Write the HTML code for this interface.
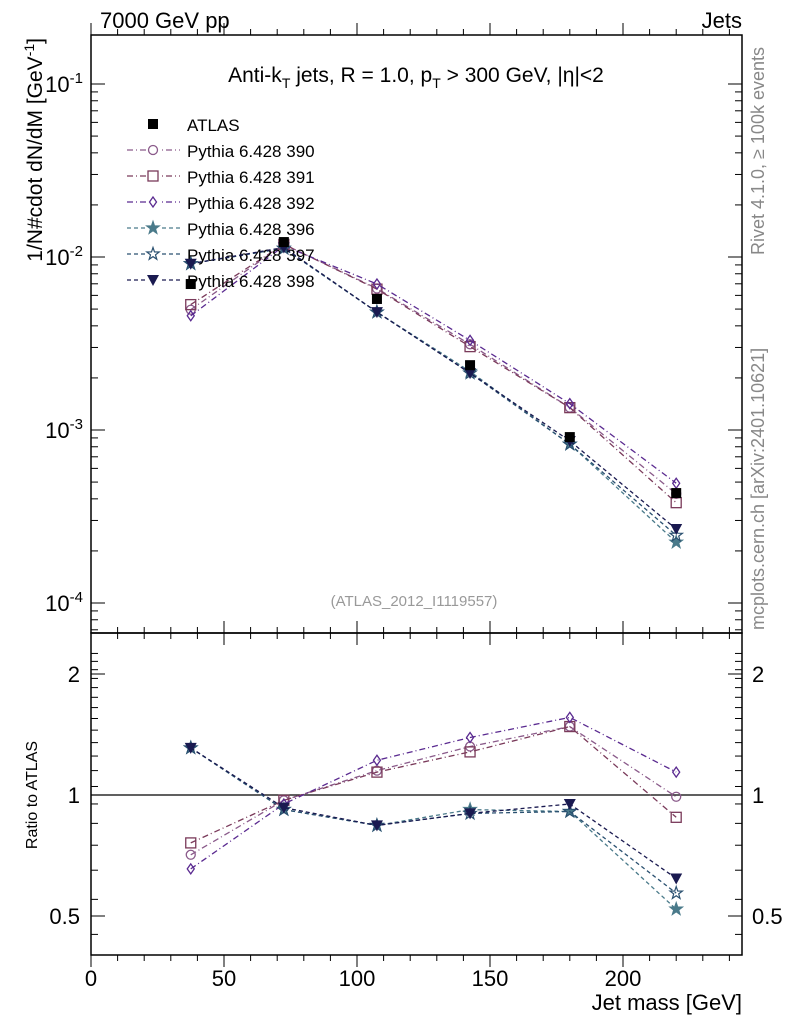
<!DOCTYPE html>
<html><head><meta charset="utf-8"><style>
body{margin:0;background:#fff;}
svg text{font-family:"Liberation Sans",sans-serif;}
</style></head><body>
<svg id="c" width="786" height="1024" xmlns="http://www.w3.org/2000/svg"></svg>
<script>
const xCenters=[37.5,72.5,107.5,142.5,180,220];
const atlas=[0.00698,0.0122,0.00572,0.00237,0.00091,0.000432];
const seriesNames=["Pythia 6.428 390","Pythia 6.428 391","Pythia 6.428 392","Pythia 6.428 396","Pythia 6.428 397","Pythia 6.428 398"];
const r390=[0.71,0.97,1.15,1.32,1.48,0.99];
const r391=[0.76,0.97,1.14,1.28,1.48,0.88];
const r392=[0.655,0.95,1.22,1.39,1.56,1.14];
const r396=[1.31,0.92,0.84,0.92,0.91,0.52];
const r397=[1.31,0.92,0.84,0.90,0.91,0.57];
const r398=[1.31,0.93,0.84,0.90,0.95,0.62];
const xTicks=[0,50,100,150,200];
const yDecades=[-1,-2,-3,-4];
const ratioTicks=[0.5,1,2];

const NS="http://www.w3.org/2000/svg";
const svg=document.getElementById('c');
function el(t,a,p){const e=document.createElementNS(NS,t);for(const k in a)e.setAttribute(k,a[k]);(p||svg).appendChild(e);return e;}
const L=91,R=742,T=35,M=633,B=955;
const X=v=>L+(v)*2.66;
const Y=v=>257-173*Math.log10(v/0.01);
const YR=r=>795-121*Math.log2(r);
const cols=["#8a5a8a","#7a3a5a","#5a2a90","#4a7a8a","#2a5070","#1a1a50"];
const dash=["6,3,1,3","6,3,1,3","6,3,1,3","4,3","4,3","4,3"];
const ratios=[r390,r391,r392,r396,r397,r398];
const marks=["circle","square","diamond","star","ostar","tri"];

function marker(type,x,y,c,g){
  if(type=="circle")return el('circle',{cx:x,cy:y,r:4.5,fill:'none',stroke:c,'stroke-width':1.3},g);
  if(type=="square")return el('rect',{x:x-5,y:y-5,width:10,height:10,fill:'none',stroke:c,'stroke-width':1.3},g);
  if(type=="diamond")return el('polygon',{points:`${x},${y-5} ${x+3.5},${y} ${x},${y+5} ${x-3.5},${y}`,fill:'none',stroke:c,'stroke-width':1.3},g);
  if(type=="tri")return el('polygon',{points:`${x-6},${y-5} ${x+6},${y-5} ${x},${y+6}`,fill:c},g);
  let p=[];for(let i=0;i<10;i++){const a=-Math.PI/2+i*Math.PI/5,rr=i%2?2.6:6.5;p.push((x+rr*Math.cos(a)).toFixed(1)+','+(y+rr*Math.sin(a)).toFixed(1));}
  return el('polygon',{points:p.join(' '),fill:type=="star"?c:'none',stroke:c,'stroke-width':1.2},g);
}
function tx(s,x,y,size,anchor,extra){const t=el('text',Object.assign({x:x,y:y,'font-size':size,'text-anchor':anchor||'start'},extra||{}));t.textContent=s;return t;}

const f1=el('rect',{x:L,y:T,width:R-L,height:M-T,fill:'none',stroke:'#000','stroke-width':1.5});

const f2=el('rect',{x:L,y:M,width:R-L,height:B-M,fill:'none',stroke:'#000','stroke-width':1.5});


for(let v=0;v<=245;v+=10){const big=v%50==0;const x=X(v);
  for(const [y0,s] of [[B,-1],[M,-1],[T,1]]){if(y0==M){el('line',{x1:x,y1:M,x2:x,y2:M-(big?12:6),stroke:'#000'});el('line',{x1:x,y1:M,x2:x,y2:M+(big?12:6),stroke:'#000'});}
  else el('line',{x1:x,y1:y0,x2:x,y2:y0-s*(big?12:6),stroke:'#000'});}}
for(const v of xTicks){const t=tx(String(v),X(v),986,22,'middle');}
const xt=tx('Jet mass [GeV]',742,1010,22,'end');

for(let d=-5;d<=-1;d++){for(let m=1;m<10;m++){const v=m*Math.pow(10,d);const y=Y(v);if(y<T||y>M)continue;const w=m==1?14:7;
  el('line',{x1:L,y1:y,x2:L+w,y2:y,stroke:'#000'});el('line',{x1:R,y1:y,x2:R-w,y2:y,stroke:'#000'});}}
for(const d of yDecades){const y=Y(Math.pow(10,d));const t=el('text',{x:83,y:y+8,'font-size':22,'text-anchor':'end'});
  
  t.innerHTML='10<tspan dy="-9" font-size="15">'+d+'</tspan>';}
const yt=el('text',{x:0,y:0,'font-size':21,'text-anchor':'end',transform:'translate(42,38) rotate(-90)'});

yt.innerHTML='1/N#cdot dN/dM [GeV<tspan dy="-8" font-size="14">-1</tspan><tspan dy="8">]</tspan>';

for(let r=0.45;r<=2.3;r+=0.1){const y=YR(r);if(y<M||y>B)continue;el('line',{x1:L,y1:y,x2:L+7,y2:y,stroke:'#000'});el('line',{x1:R,y1:y,x2:R-7,y2:y,stroke:'#000'});}
for(const r of ratioTicks){const y=YR(r);el('line',{x1:L,y1:y,x2:L+14,y2:y,stroke:'#000'});el('line',{x1:R,y1:y,x2:R-14,y2:y,stroke:'#000'});
  const a=tx(String(r),80,y+8,22,'end');
  const b=tx(String(r),752,y+8,22,'start');}
el('line',{x1:L,y1:YR(1),x2:R,y2:YR(1),stroke:'#000','stroke-width':1.2});
const rt=tx('Ratio to ATLAS',0,0,16,'middle',{transform:'translate(37,795) rotate(-90)'});

let t;
t=tx('7000 GeV pp',100,28,22);
t=tx('Jets',742,28,22,'end');
t=el('text',{x:416,y:82,'font-size':21,'text-anchor':'middle'});
t.innerHTML='Anti-k<tspan dy="6" font-size="14">T</tspan><tspan dy="-6"> jets, R = 1.0, p</tspan><tspan dy="6" font-size="14">T</tspan><tspan dy="-6"> &gt; 300 GeV, |η|&lt;2</tspan>';
t=tx('(ATLAS_2012_I1119557)',414,606,15,'middle',{fill:'#999'});
t=tx('Rivet 4.1.0, ≥ 100k events',0,0,18,'start',{fill:'#888',transform:'translate(764,255) rotate(-90)'});
t=tx('mcplots.cern.ch [arXiv:2401.10621]',0,0,18,'start',{fill:'#888',transform:'translate(764,630) rotate(-90)'});

ratios.forEach((rs,i)=>{
  const g=el('g',{});
  const pm=xCenters.map((x,j)=>X(x)+','+Y(atlas[j]*rs[j]).toFixed(1)).join(' ');
  el('polyline',{points:pm,fill:'none',stroke:cols[i],'stroke-width':1.3,'stroke-dasharray':dash[i]},g);
  const pr=xCenters.map((x,j)=>X(x)+','+YR(rs[j]).toFixed(1)).join(' ');
  el('polyline',{points:pr,fill:'none',stroke:cols[i],'stroke-width':1.3,'stroke-dasharray':dash[i]},g);
  xCenters.forEach((x,j)=>{marker(marks[i],X(x),Y(atlas[j]*rs[j]),cols[i],g);marker(marks[i],X(x),YR(rs[j]),cols[i],g);});
  const ly=150+i*26;
  const lg=el('g',{},g);
  el('line',{x1:127,y1:ly,x2:180,y2:ly,stroke:cols[i],'stroke-width':1.3,'stroke-dasharray':dash[i]},lg);
  el('rect',{x:146,y:ly-7,width:14,height:14,fill:'#fff'},lg);
  marker(marks[i],153,ly,cols[i],lg);
  const tt=el('text',{x:187,y:ly+7,'font-size':17},lg);tt.textContent=seriesNames[i];
});
const ga=el('g',{});
xCenters.forEach((x,j)=>el('rect',{x:X(x)-5,y:Y(atlas[j])-5,width:10,height:10,fill:'#000'},ga));
const la=el('g',{});
el('rect',{x:148,y:119,width:10,height:10,fill:'#000'},la);
const tta=el('text',{x:187,y:131,'font-size':17},la);tta.textContent='ATLAS';
</script>
</body></html>
